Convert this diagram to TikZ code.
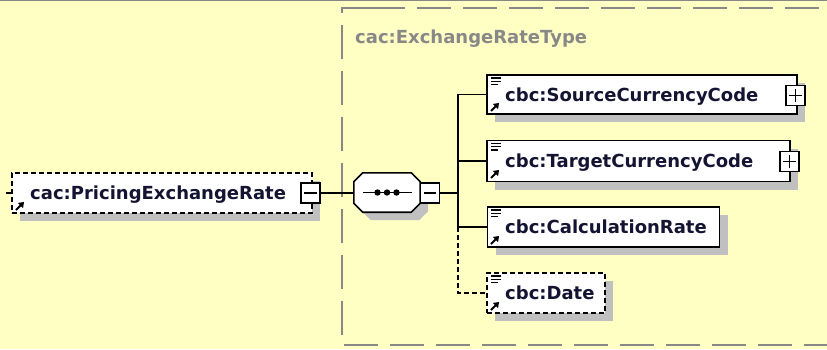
\documentclass[tikz,border=0pt]{standalone}
\usepackage{fontspec}
\setmainfont{DejaVu Sans}
\usetikzlibrary{shadows,arrows.meta}
\definecolor{bg}{RGB}{255,255,196}
\definecolor{shgray}{RGB}{192,192,192}
\definecolor{cgray}{RGB}{136,136,136}
\definecolor{ink}{RGB}{20,20,50}
\tikzset{
  elem/.style={draw=black, line width=1.6pt, fill=white, inner sep=0pt, minimum height=40pt,
    drop shadow={shadow xshift=8pt, shadow yshift=-8pt, fill=shgray, opacity=1}},
  optelem/.style={elem, dash pattern=on 5pt off 3pt},
  btn/.style={draw=black, line width=1.4pt, fill=white, minimum width=19pt, minimum height=20pt, inner sep=0pt},
  sign/.style={line width=1.4pt},
  lbl/.style={anchor=base west, inner sep=0pt, text=ink, font=\fontsize{18}{20}\selectfont\bfseries},
  ttl/.style={anchor=base west, inner sep=0pt, text=cgray, font=\fontsize{18}{20}\selectfont\bfseries},
  conn/.style={line width=1.6pt, black},
  optconn/.style={conn, dash pattern=on 5pt off 3pt},
  container/.style={cgray, line width=1.6pt, dash pattern=on 34pt off 12pt},
  refarrow/.pic={\draw[line width=2pt,-{Triangle[length=5pt,width=7pt]}] (0,0) -- (8,8);},
  doclines/.pic={\draw[line width=1.3pt] (0,0) -- (10,0) (0,-3.2) -- (10,-3.2) (0,-6.4) -- (7,-6.4);}
}
\begin{document}
\begin{tikzpicture}[x=1pt,y=1pt]
\useasboundingbox (0,0) rectangle (827,-349);
\fill[bg] (0,0) rectangle (827,-349);
\draw[cgray, line width=1.5pt] (0,-0.5) -- (827,-0.5);
% container
\draw[container] (371,-8) -- (342,-8) -- (342,-345) -- (900,-345);
\draw[container] (371,-8) -- (900,-8);
\node[ttl] (title) at (355,-43) {cac:ExchangeRateType};
% coordinates
\coordinate (stub) at (6,-193);
\coordinate (trunk) at (458,-193);
% boxes
\node[optelem, minimum width=300pt] (main) at (162,-193) {};
\node[elem, minimum width=310pt, minimum height=39pt] (src) at (642,-94.5) {};
\node[elem, minimum width=303pt, minimum height=41pt] (tgt) at (638.5,-161) {};
\node[elem, minimum width=232pt] (calc) at (603.5,-227) {};
\node[optelem, minimum width=118pt] (date) at (546,-293) {};
\node[minimum width=66pt, minimum height=39pt, inner sep=0pt] (comp) at (387,-192.5) {};
\draw[line width=1.6pt, fill=white, drop shadow={shadow xshift=8pt, shadow yshift=-8pt, fill=shgray, opacity=1}]
  ([xshift=9pt]comp.north west) -- ([xshift=-9pt]comp.north east) -- ([yshift=-9pt]comp.north east)
  -- ([yshift=9pt]comp.south east) -- ([xshift=-9pt]comp.south east) -- ([xshift=9pt]comp.south west)
  -- ([yshift=9pt]comp.south west) -- ([yshift=-9pt]comp.north west) -- cycle;
\draw[line width=1.6pt] ([xshift=-24pt]comp.center) -- ([xshift=25pt]comp.center);
\foreach \dx in {-9.5,0,9.5} \fill ([xshift=\dx pt]comp.center) circle (3.2pt);
% buttons
\node[btn] (mainbtn) at (310.5,-193) {};
\node[btn] (compbtn) at (430,-193) {};
\node[btn] (srcbtn) at (795.5,-95.5) {};
\node[btn] (tgtbtn) at (789.5,-161.5) {};
% connectors
\draw[conn] (stub) -- (main.west);
\draw[conn] (mainbtn.east) -- (mainbtn.east -| comp.west);
\draw[conn] (compbtn.east) -- (trunk);
\draw[conn] (trunk) |- (src.west);
\draw[conn] (trunk) |- (tgt.west);
\draw[conn] (trunk) |- (calc.west);
\draw[optconn] (trunk |- calc.west) |- (date.west);
% button signs
\draw[sign] ([xshift=4pt]mainbtn.west) -- ([xshift=-4pt]mainbtn.east);
\draw[sign] ([xshift=4pt]compbtn.west) -- ([xshift=-4pt]compbtn.east);
\draw[sign] ([xshift=4pt]srcbtn.west) -- ([xshift=-4pt]srcbtn.east) ([yshift=4pt]srcbtn.south) -- ([yshift=-4pt]srcbtn.north);
\draw[sign] ([xshift=4pt]tgtbtn.west) -- ([xshift=-4pt]tgtbtn.east) ([yshift=4pt]tgtbtn.south) -- ([yshift=-4pt]tgtbtn.north);
% icons
\pic at (16,-210) {refarrow};
\pic at (491,-111) {refarrow};
\pic at (491,-178) {refarrow};
\pic at (491,-244) {refarrow};
\pic at (491,-310) {refarrow};
\pic at (491,-78) {doclines};
\pic at (491,-143.5) {doclines};
\pic at (491,-210) {doclines};
\pic at (491,-276) {doclines};
% labels
\node[lbl] (mainlbl) at (30,-199.5) {cac:PricingExchangeRate};
\node[lbl] (srclbl) at (505,-101) {cbc:SourceCurrencyCode};
\node[lbl] (tgtlbl) at (505,-167.5) {cbc:TargetCurrencyCode};
\node[lbl] (calclbl) at (505,-233.5) {cbc:CalculationRate};
\node[lbl] (datelbl) at (505,-299.5) {cbc:Date};
\end{tikzpicture}
\end{document}
